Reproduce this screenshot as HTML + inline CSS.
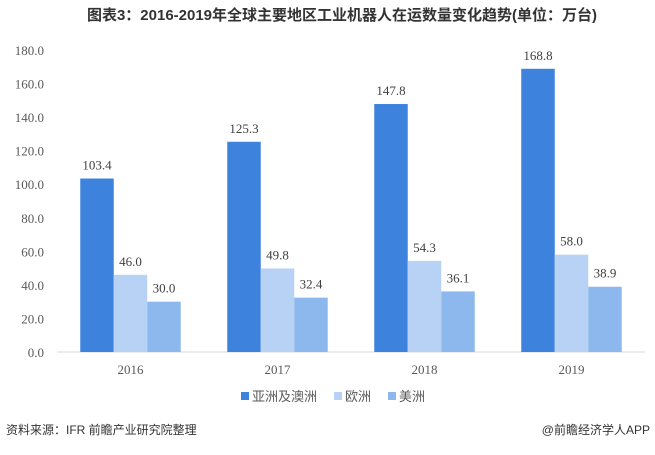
<!DOCTYPE html>
<html><head><meta charset="utf-8"><style>
body{margin:0;background:#fff;}
svg text{font-family:"Liberation Serif","Noto Serif CJK SC",serif;}
.cj{font-family:"Liberation Sans","Noto Sans CJK SC",sans-serif;}
</style></head><body>
<svg id="c" width="655" height="450" xmlns="http://www.w3.org/2000/svg">
<rect width="655" height="450" fill="#fff"/>
<text class="cj" x="342" y="20" text-anchor="middle" font-size="15" font-weight="bold" fill="#333">图表3：2016-2019年全球主要地区工业机器人在运数量变化趋势(单位：万台)</text>
<g id="yaxis"></g><g id="bars"></g><g id="xaxis"></g>
<g>
<rect x="241" y="392" width="8" height="8" fill="#3d83de"/>
<text class="cj" x="252" y="401" font-size="13" fill="#595959">亚洲及澳洲</text>
<rect x="334" y="392" width="8" height="8" fill="#b7d2f4"/>
<text class="cj" x="345" y="401" font-size="13" fill="#595959">欧洲</text>
<rect x="388" y="392" width="8" height="8" fill="#8db8ee"/>
<text class="cj" x="399" y="401" font-size="13" fill="#595959">美洲</text>
</g>
<text class="cj" x="6" y="434" font-size="12" fill="#333">资料来源：IFR 前瞻产业研究院整理</text>
<text class="cj" x="650" y="434" text-anchor="end" font-size="12" fill="#333">@前瞻经济学人APP</text>
</svg>
<script>
const categories=["2016","2017","2018","2019"];
const asia=[103.4,125.3,147.8,168.8];
const europe=[46.0,49.8,54.3,58.0];
const america=[30.0,32.4,36.1,38.9];
const yTicks=[0,20,40,60,80,100,120,140,160,180];
const ns="http://www.w3.org/2000/svg";
const y0=352,yTop=50,yMax=180,x0=57,cw=147;
const y=v=>y0-(v/yMax)*(y0-yTop);
const xc=i=>x0+cw*(i+0.5);
function mk(t,a,p){const e=document.createElementNS(ns,t);for(const k in a)e.setAttribute(k,a[k]);p.appendChild(e);return e;}
const ya=document.getElementById('yaxis');
yTicks.forEach(t=>{const e=mk('text',{x:44,y:y(t)+5,'text-anchor':'end','font-size':13,fill:'#595959'},ya);e.textContent=t.toFixed(1);

});
const ax=mk('line',{x1:x0,x2:x0+cw*4,y1:y0,y2:y0,stroke:'#d9d9d9'},ya);


const series=[[asia,'#3d83de','asia'],[europe,'#b7d2f4','europe'],[america,'#8db8ee','america']];
const bw=33.5,bg=document.getElementById('bars'),xa=document.getElementById('xaxis');
categories.forEach((c,i)=>{
 series.forEach((s,j)=>{
  const v=s[0][i],bx=xc(i)-1.5*bw+j*bw;
  const r=mk('rect',{x:bx,y:y(v),width:bw,height:y0-y(v),fill:s[1]},bg);
  
  
  const t=mk('text',{x:bx+bw/2,y:y(v)-9,'text-anchor':'middle','font-size':13,fill:'#404040'},bg);
  t.textContent=v.toFixed(1);
  
  
 });
 const t=mk('text',{x:xc(i),y:y0+22,'text-anchor':'middle','font-size':13,fill:'#595959'},xa);
 t.textContent=c;
 
 
});
</script>
</body></html>
